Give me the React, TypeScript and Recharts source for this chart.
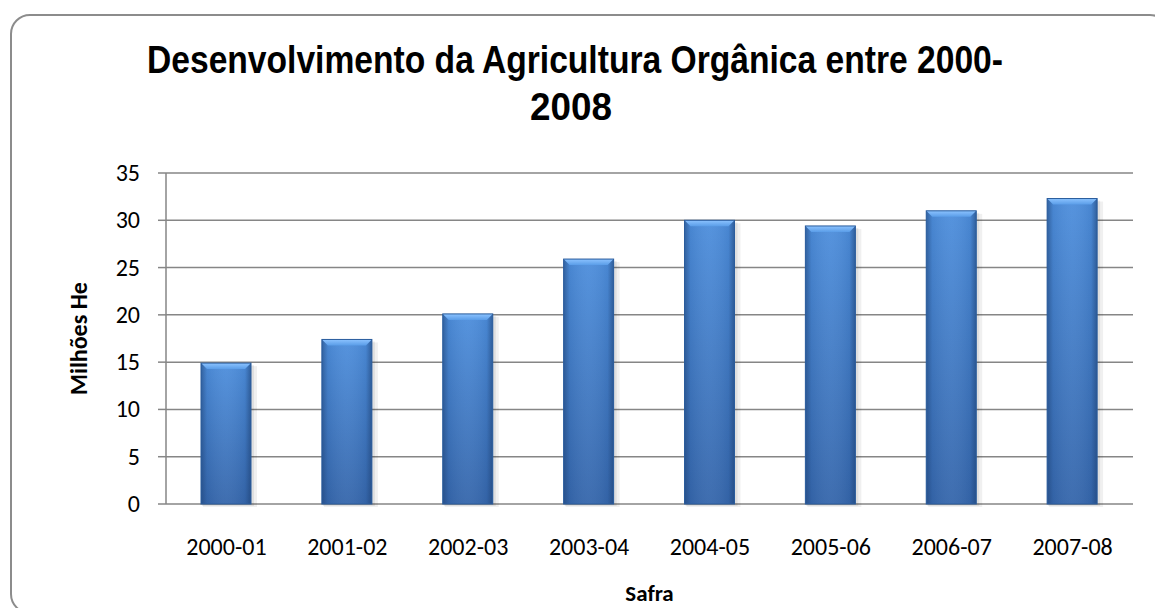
import { BarChart, Bar, XAxis, YAxis, CartesianGrid, Label } from 'recharts';

const safras = ['2000-01', '2001-02', '2002-03', '2003-04', '2004-05', '2005-06', '2006-07', '2007-08'];
const milhoesHe = [14.9, 17.4, 20.1, 25.9, 30.0, 29.4, 31.0, 32.3];
const yTicks = [0, 5, 10, 15, 20, 25, 30, 35];
const boundaryTicks = [0, 1, 2, 3, 4, 5, 6, 7, 8];

const chartData = safras.map((s, i) => ({ safra: s, idx: i + 0.5, valor: milhoesHe[i] }));

const tickFont = "Carlito, Calibri, 'Open Sans', sans-serif";
const titleFont = "'Liberation Sans Narrow', 'Arial Narrow', 'Liberation Sans', Arial, sans-serif";

function BevelBar(props: any) {
  const { x, y, width, height } = props;
  if (!height || height <= 0) return null;
  const b = 6;
  return (
    <g>
      <rect x={x + 2} y={y + 3} width={width + 4} height={height} fill="rgba(0,0,0,0.06)" />
      <rect x={x + 1} y={y + 2} width={width + 2} height={height} fill="rgba(0,0,0,0.07)" />
      <rect x={x} y={y} width={width} height={height} fill="url(#barBody)" />
      <rect x={x} y={y} width={width} height={height} fill="url(#barShade)" />
      <polygon
        points={`${x},${y} ${x + width},${y} ${x + width - b},${y + b} ${x + b},${y + b}`}
        fill="url(#barTop)"
      />
      <rect x={x} y={y} width={width} height={height} fill="none" stroke="#2a5c9c" strokeWidth={1} />
    </g>
  );
}

function XTick(props: any) {
  const { x, y, payload } = props;
  return (
    <text x={x} y={y + 43} textAnchor="middle" fontSize={24} fill="#000" fontFamily={tickFont}>
      {payload.value}
    </text>
  );
}

function YTick(props: any) {
  const { x, y, payload } = props;
  return (
    <text x={x - 16} y={y + 8} textAnchor="end" fontSize={24} fill="#000" fontFamily={tickFont}>
      {payload.value}
    </text>
  );
}

export default function App() {
  return (
    <div style={{ position: 'absolute', left: 0, top: 0, width: 1155, height: 608, background: '#fff', overflow: 'hidden' }}>
      <div
        style={{
          position: 'absolute',
          left: 10,
          top: 14,
          width: 1160,
          height: 600,
          border: '2px solid #8c8c8c',
          borderRadius: 20,
          boxSizing: 'border-box',
        }}
      />
      <svg width={1155} height={130} style={{ position: 'absolute', left: 0, top: 0 }}>
        <text
          x={575}
          y={73}
          textAnchor="middle"
          fontFamily={titleFont}
          fontWeight={700}
          fontSize={38}
          textLength={856}
          lengthAdjust="spacingAndGlyphs"
          fill="#000"
        >
          Desenvolvimento da Agricultura Orgânica entre 2000-
        </text>
        <text
          x={571}
          y={120}
          textAnchor="middle"
          fontFamily={titleFont}
          fontWeight={700}
          fontSize={38}
          textLength={82}
          lengthAdjust="spacingAndGlyphs"
          fill="#000"
        >
          2008
        </text>
      </svg>
      <div style={{ position: 'absolute', left: 0, top: 0 }}>
        <BarChart
          width={1155}
          height={608}
          data={chartData}
          margin={{ top: 173, right: 22, bottom: 0, left: 56 }}
        >
          <defs>
            <linearGradient id="barBody" x1="0" y1="0" x2="0" y2="1">
              <stop offset="0%" stopColor="#4d8edc" />
              <stop offset="100%" stopColor="#3566ab" />
            </linearGradient>
            <linearGradient id="barShade" x1="0" y1="0" x2="1" y2="0">
              <stop offset="0%" stopColor="#1d3f70" stopOpacity={0.55} />
              <stop offset="12%" stopColor="#1d3f70" stopOpacity={0.1} />
              <stop offset="50%" stopColor="#ffffff" stopOpacity={0.05} />
              <stop offset="88%" stopColor="#1d3f70" stopOpacity={0.1} />
              <stop offset="100%" stopColor="#1d3f70" stopOpacity={0.6} />
            </linearGradient>
            <linearGradient id="barTop" x1="0" y1="0" x2="0" y2="1">
              <stop offset="0%" stopColor="#8cc3ff" />
              <stop offset="100%" stopColor="#5a9de8" />
            </linearGradient>
          </defs>
          <CartesianGrid vertical={false} stroke="#868686" strokeWidth={1.5} />
          <XAxis
            dataKey="safra"
            xAxisId="cat"
            height={104}
            axisLine={false}
            tickLine={false}
            tick={<XTick />}
          >
            <Label
              value="Safra"
              position="insideBottom"
              offset={7}
              style={{ fontSize: 23, fontWeight: 700, fill: '#000', fontFamily: tickFont }}
            />
          </XAxis>
          <XAxis
            xAxisId="edges"
            type="number"
            dataKey="idx"
            domain={[0, 8]}
            ticks={boundaryTicks}
            height={0}
            axisLine={{ stroke: '#868686', strokeWidth: 1.5 }}
            tickLine={{ stroke: '#868686', strokeWidth: 1.5 }}
            tickSize={8}
            tick={false}
            orientation="bottom"
          />
          <YAxis
            domain={[0, 35]}
            ticks={yTicks}
            width={110}
            interval={0}
            axisLine={{ stroke: '#868686', strokeWidth: 1.5 }}
            tickLine={{ stroke: '#868686', strokeWidth: 1.5 }}
            tickSize={8}
            tick={<YTick />}
          >
            <Label
              value="Milhões He"
              angle={-90}
              position="insideLeft"
              offset={22}
              style={{ fontSize: 24, fontWeight: 700, fill: '#000', fontFamily: tickFont, textAnchor: 'middle' }}
            />
          </YAxis>
          <Bar dataKey="valor" xAxisId="cat" barSize={50} shape={BevelBar} isAnimationActive={false} />
        </BarChart>
      </div>
    </div>
  );
}
